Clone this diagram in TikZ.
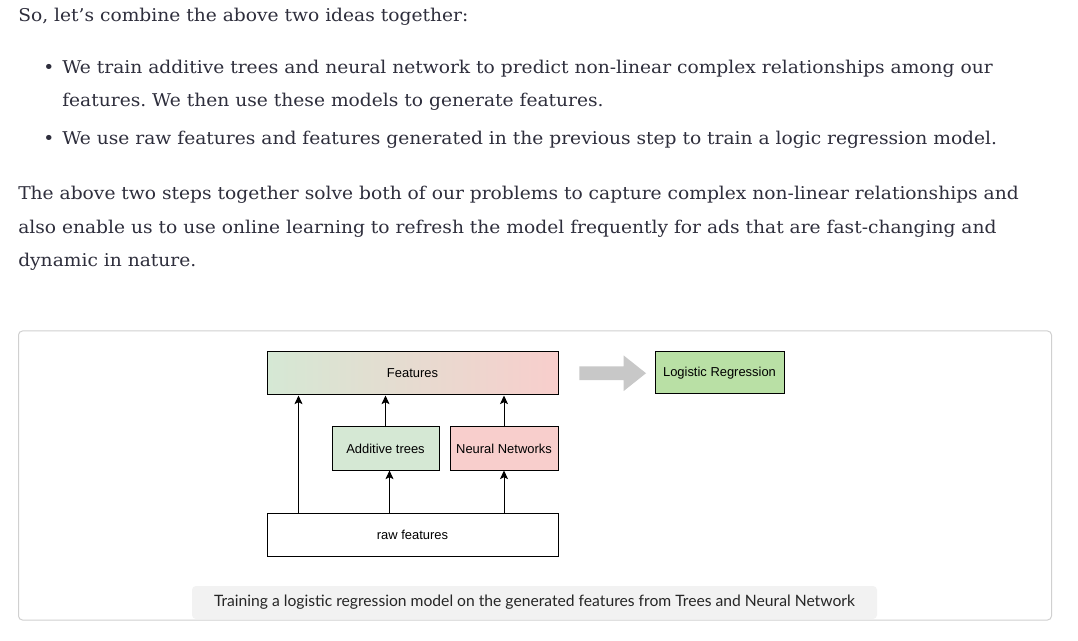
\documentclass[tikz,border=0pt]{standalone}
\usepackage{fontspec}
\setmainfont[FakeStretch=1.06]{DejaVu Serif}
\setsansfont{Liberation Sans}
\newfontfamily\capfont{Lato}
\usetikzlibrary{arrows.meta,shapes.arrows}
\definecolor{bodytext}{RGB}{46,46,60}
\definecolor{treegreen}{RGB}{213,232,212}
\definecolor{netred}{RGB}{248,206,204}
\definecolor{lrgreen}{RGB}{185,224,165}
\definecolor{framegray}{RGB}{208,208,208}
\definecolor{capgray}{RGB}{242,242,242}
\definecolor{blockgray}{RGB}{200,200,200}
\frenchspacing
\begin{document}
\begin{tikzpicture}
		[x=0.75pt,y=-0.75pt,
		textline/.style={anchor=base west,inner sep=0pt,text=bodytext,
font=\fontsize{13.2}{15}\selectfont},
		box/.style={draw=black,line width=0.75pt,inner sep=0pt,
font=\sffamily\fontsize{9.7}{11}\selectfont},
		arr/.style={-{Stealth[length=6.5pt,width=6pt,inset=1.5pt]},line width=0.75pt}]
		\useasboundingbox[fill=white] (0,0) rectangle (1078,641);
		% text above the figure
		\node at (18,22) (intro) [textline] {So, let’s combine the above two ideas together:};
		\node at (43,74) (dot1) [textline] {•};
		\node at (62,74) (item1a) [textline] {We train additive trees and neural network to predict non-linear complex relationships among our};
		\node at (62,107) (item1b) [textline] {features. We then use these models to generate features.};
		\node at (43,145) (dot2) [textline] {•};
		\node at (62,145) (item2) [textline] {We use raw features and features generated in the previous step to train a logic regression model.};
		\node at (18,200) (para1) [textline] {The above two steps together solve both of our problems to capture complex non-linear relationships and};
		\node at (18,234) (para2) [textline] {also enable us to use online learning to refresh the model frequently for ads that are fast-changing and};
		\node at (18,267) (para3) [textline] {dynamic in nature.};
		% figure frame
		\draw[framegray,line width=0.75pt,rounded corners=3pt] (18.5,331) rectangle (1051.5,620);
		\node at (534.5,602.5) (caption) [fill=capgray,rounded corners=3pt,inner sep=0pt,
minimum width=513.75pt,minimum height=24.75pt,text=black!85,
font=\capfont\fontsize{11.75}{13}\selectfont]
			{\raisebox{-1.5pt}{Training a logistic regression model on the generated features from Trees and Neural Network}};
		% diagram
		\node at (412.5,373.5) (feat) [box,left color=treegreen,right color=netred,
minimum width=218.25pt,minimum height=32.25pt] {Features};
		\node at (385.5,448.5) (trees) [box,fill=treegreen,
minimum width=80.25pt,minimum height=32.25pt] {Additive trees};
		\node at (504,448.5) (nets) [box,fill=netred,
minimum width=81pt,minimum height=32.25pt] {Neural Networks};
		\node at (412.5,534.5) (raw) [box,fill=white,
minimum width=218.25pt,minimum height=32.25pt] {raw features};
		\node at (719.5,373) (lr) [box,fill=lrgreen,
minimum width=96.75pt,minimum height=31.5pt] {Logistic Regression};
		\path (feat.east) -- (lr.west) node[pos=0.52,single arrow,fill=blockgray,
inner xsep=0pt,inner ysep=4.875pt,minimum height=50pt,
single arrow head extend=8.25pt,single arrow tip angle=77] (conv) {};
		\draw[arr] ([xshift=24pt]raw.north west) -- ([xshift=24pt]feat.south west);
		\draw[arr] (trees.north) -- (trees.north |- feat.south);
		\draw[arr] (nets.north) -- (nets.north |- feat.south);
		\draw[arr] ([xshift=3pt]raw.north -| trees) -- ([xshift=3pt]trees.south);
		\draw[arr] (raw.north -| nets) -- (nets.south);
	\end{tikzpicture}
\end{document}
